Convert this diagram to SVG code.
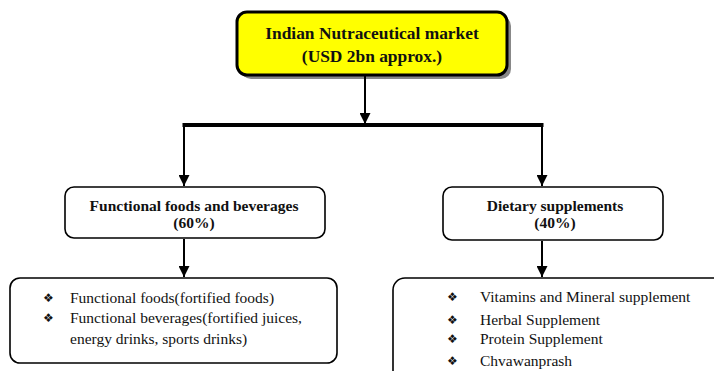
<svg xmlns="http://www.w3.org/2000/svg" width="714" height="371" viewBox="0 0 714 371">
<style>
.bx{fill:#fff;stroke:#000;stroke-width:1.6}
.t{font-family:"Liberation Serif","DejaVu Serif",serif;fill:#111}
.b{font-weight:bold;font-size:15.5px;text-anchor:middle}
.h{font-size:17.4px}
.l{font-size:15.5px}
.bul{font-family:"DejaVu Sans",sans-serif;font-size:12px;fill:#111}
.ln{stroke:#000;fill:none}
</style>
<defs>
<marker id="ah" viewBox="0 0 10 10" refX="10" refY="5" markerWidth="11" markerHeight="11" markerUnits="userSpaceOnUse" orient="auto">
<path d="M0,0 L10,5 L0,10 z" fill="#000"/>
</marker>
</defs>
<rect width="714" height="371" fill="#fff"/>
<g id="root">
<rect x="241" y="16" width="270" height="63" rx="10" fill="#888"/>
<rect x="237" y="12" width="270" height="63" rx="10" fill="#ffff00" stroke="#000" stroke-width="3"/>
<text class="t b h" x="372" y="39">Indian Nutraceutical market</text>
<text class="t b h" x="372" y="62">(USD 2bn approx.)</text>
</g>
<g id="functional">
<rect class="bx" x="65" y="187" width="260" height="51" rx="9"/>
<text class="t b" x="194" y="211">Functional foods and beverages</text>
<text class="t b" x="194" y="228">(60%)</text>
</g>
<g id="dietary">
<rect class="bx" x="443" y="187" width="220" height="53" rx="9"/>
<text class="t b" x="555" y="211">Dietary supplements</text>
<text class="t b" x="555" y="228">(40%)</text>
</g>
<g id="functional-list">
<rect class="bx" x="10" y="278" width="327" height="85" rx="10"/>
<text class="bul" x="43" y="302">❖</text>
<text class="t l" x="70" y="303">Functional foods(fortified foods)</text>
<text class="bul" x="43" y="322">❖</text>
<text class="t l" x="70" y="323">Functional beverages(fortified juices,</text>
<text class="t l" x="70" y="344">energy drinks, sports drinks)</text>
</g>
<g id="dietary-list">
<rect class="bx" x="393" y="278" width="340" height="110" rx="12"/>
<text class="bul" x="447" y="301">❖</text>
<text class="t l" x="480" y="302">Vitamins and Mineral supplement</text>
<text class="bul" x="447" y="324">❖</text>
<text class="t l" x="480" y="325">Herbal Supplement</text>
<text class="bul" x="447" y="343">❖</text>
<text class="t l" x="480" y="344">Protein Supplement</text>
<text class="bul" x="447" y="365">❖</text>
<text class="t l" x="480" y="366">Chvawanprash</text>
</g>
<g id="connectors">
<line class="ln" x1="365" y1="76" x2="365" y2="124" stroke-width="2" marker-end="url(#ah)"/>
<line class="ln" x1="182.5" y1="125" x2="543.5" y2="125" stroke-width="4"/>
<line class="ln" x1="184" y1="125" x2="184" y2="186" stroke-width="2" marker-end="url(#ah)"/>
<line class="ln" x1="542" y1="125" x2="542" y2="186" stroke-width="2" marker-end="url(#ah)"/>
<line class="ln" x1="184" y1="239" x2="184" y2="277" stroke-width="2" marker-end="url(#ah)"/>
<line class="ln" x1="542" y1="241" x2="542" y2="277" stroke-width="2" marker-end="url(#ah)"/>
</g>
</svg>
